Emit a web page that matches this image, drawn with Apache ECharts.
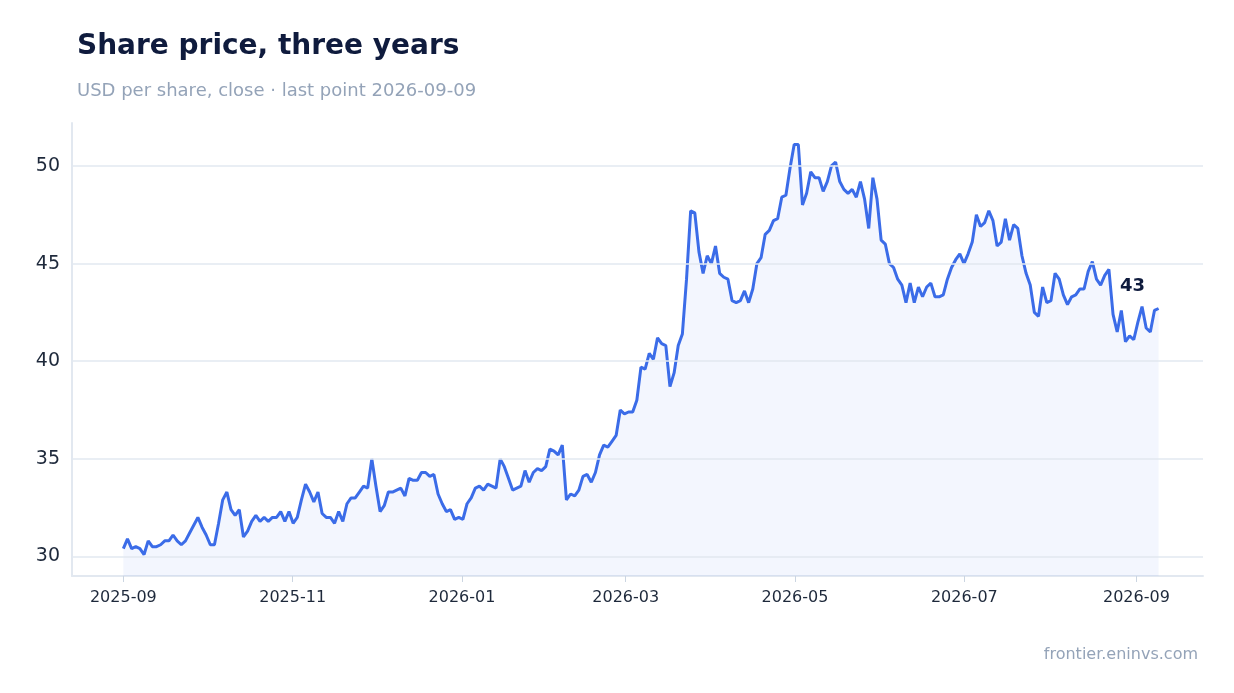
<!DOCTYPE html>
<html><head><meta charset="utf-8">
<script src="https://cdn.jsdelivr.net/npm/echarts@6/dist/echarts.min.js"></script>
<style>html,body{margin:0;background:#fff}#c{width:1234px;height:693px}</style>
</head><body><div id="c"></div>
<script>
const startDate = '2025-09-01';
const endDate = '2026-09-09';
const tickLabels = ['2025-09-01','2025-11-01','2026-01-01','2026-03-01','2026-05-01','2026-07-01','2026-09-01'];
const prices = [
30.4,30.9,30.4,30.5,30.4,30.1,30.8,30.5,30.5,30.6,30.8,30.8,31.1,30.8,30.6,30.8,31.2,31.6,32.0,31.5,31.1,30.6,
30.6,31.7,32.9,33.3,32.4,32.1,32.4,31.0,31.3,31.8,32.1,31.8,32.0,31.8,32.0,32.0,32.3,31.8,32.3,31.7,32.0,32.9,33.7,
33.3,32.8,33.3,32.2,32.0,32.0,31.7,32.3,31.8,32.7,33.0,33.0,33.3,33.6,33.5,35.0,33.6,32.3,32.6,33.3,33.3,
33.4,33.5,33.1,34.0,33.9,33.9,34.3,34.3,34.1,34.2,33.2,32.7,32.3,32.4,31.9,32.0,31.9,32.7,33.0,33.5,33.6,33.4,
33.7,33.6,33.5,35.0,34.6,34.0,33.4,33.5,33.6,34.4,33.8,34.3,34.5,34.4,34.6,35.5,35.4,35.2,35.7,32.9,33.2,33.1,
33.4,34.1,34.2,33.8,34.3,35.2,35.7,35.6,35.9,36.2,37.5,37.3,37.4,37.4,38.0,39.7,39.6,40.4,40.1,41.2,
40.9,40.8,38.7,39.4,40.8,41.4,44.2,47.7,47.6,45.6,44.5,45.4,45.0,45.9,44.5,44.3,44.2,43.1,43.0,43.1,43.6,43.0,
43.7,45.0,45.3,46.5,46.7,47.2,47.3,48.4,48.5,49.9,51.1,51.1,48.0,48.6,49.7,49.4,49.4,48.7,49.2,50.0,50.2,49.2,
48.8,48.6,48.8,48.4,49.2,48.3,46.8,49.4,48.3,46.2,46.0,45.0,44.8,44.2,43.9,43.0,44.0,43.0,43.8,43.3,43.8,
44.0,43.3,43.3,43.4,44.2,44.8,45.2,45.5,45.0,45.5,46.1,47.5,46.9,47.1,47.7,47.2,45.9,46.1,47.3,46.2,47.0,46.8,
45.4,44.5,43.9,42.5,42.3,43.8,43.0,43.1,44.5,44.2,43.4,42.9,43.3,43.4,43.7,43.7,44.6,45.1,44.2,43.9,44.4,44.7,42.4,
41.5,42.6,41.0,41.3,41.1,42.0,42.8,41.7,41.5,42.6,42.7
];
const gridValues = [30,35,40,45,50];

const t0 = Date.parse(startDate+'T00:00:00Z'), t1 = Date.parse(endDate+'T00:00:00Z');
const step = (t1 - t0) / (prices.length - 1);
const data = prices.map((v,i)=>[t0 + i*step, v]);
const last = data.length - 1;
const tickVals = tickLabels.map(d=>Date.parse(d+'T00:00:00Z'));
const fmt = v => { const d=new Date(v); return d.getUTCFullYear()+'-'+String(d.getUTCMonth()+1).padStart(2,'0'); };
const chart = echarts.init(document.getElementById('c'));
const font = 'DejaVu Sans';
chart.setOption({
  animation:false,
  textStyle:{fontFamily:font},
  title:[
    {text:'Share price, three years',left:72,top:28,textStyle:{fontSize:28,fontWeight:'bold',color:'#0f1b3d',fontFamily:font}},
    {text:'USD per share, close · last point 2026-09-09',left:72,top:77,textStyle:{fontSize:18,fontWeight:'normal',color:'#94a3b8',fontFamily:font}},
    {text:'frontier.eninvs.com',right:31,top:642,textStyle:{fontSize:16,fontWeight:'normal',color:'#94a3b8',fontFamily:font}}
  ],
  grid:{left:72,right:31,top:123,bottom:117},
  xAxis:{type:'value',min:Date.parse('2025-08-13T12:00:00Z'),max:Date.parse('2026-09-25T00:00:00Z'),
    axisLine:{show:true,lineStyle:{color:'#e2e8f0',width:2}},
    axisTick:{show:true,customValues:tickVals,length:6,lineStyle:{color:'#cbd5e1'}},
    axisLabel:{customValues:tickVals,formatter:fmt,fontSize:16,color:'#1e293b',margin:14},
    splitLine:{show:false}},
  yAxis:{type:'value',min:29,max:52.2,
    axisLine:{show:true,lineStyle:{color:'#e2e8f0',width:2}},
    axisTick:{show:false},splitLine:{show:false},
    axisLabel:{customValues:gridValues,fontSize:19,color:'#1e293b',margin:12}},
  series:[{type:'line',data:data,showSymbol:false,symbol:'none',
    lineStyle:{color:'#3b6ce8',width:3},
    areaStyle:{color:'rgba(59,108,232,0.09)'},
    markLine:{silent:true,symbol:'none',label:{show:false},lineStyle:{color:'#e2e8f0',type:'solid',width:1.5},
      data:gridValues.map(v=>({yAxis:v}))},
    markPoint:{symbol:'circle',symbolSize:1,itemStyle:{color:'transparent'},data:[{coord:data[last],value:Math.round(prices[last]),
      label:{show:true,formatter:'{c}',offset:[-26,-22],fontSize:18,fontWeight:'bold',color:'#0f1b3d'}}]}
  }]
});
</script></body></html>
